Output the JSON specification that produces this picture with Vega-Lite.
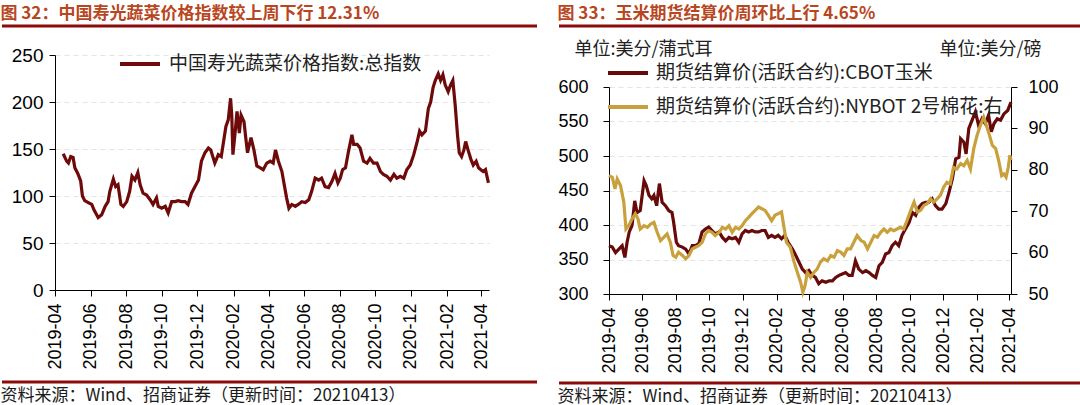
{
  "$schema": "https://vega.github.io/schema/vega-lite/v6.json",
  "padding": {"left": 0, "right": 0, "top": 4, "bottom": 0},
  "spacing": 18,
  "config": {
    "view": {"stroke": null},
    "axis": {"domainColor": "#000", "tickColor": "#000", "labelColor": "#000", "labelFont": "Liberation Sans", "titleColor": "#000", "domainWidth": 1, "tickWidth": 1},
    "title": {"font": "Noto Sans CJK SC"}
  },
  "resolve": {"scale": {"x": "independent", "y": "independent", "color": "independent"}, "legend": {"color": "independent"}},
  "datasets": {
    "veg": [
      {"date": "2019-04-15", "v": 145}, {"date": "2019-04-21", "v": 137}, {"date": "2019-04-24", "v": 135}, {"date": "2019-04-28", "v": 142},
      {"date": "2019-05-02", "v": 141}, {"date": "2019-05-05", "v": 130}, {"date": "2019-05-10", "v": 124}, {"date": "2019-05-15", "v": 116},
      {"date": "2019-05-18", "v": 100}, {"date": "2019-05-22", "v": 95}, {"date": "2019-05-28", "v": 93}, {"date": "2019-06-03", "v": 91},
      {"date": "2019-06-07", "v": 85}, {"date": "2019-06-14", "v": 77}, {"date": "2019-06-20", "v": 80}, {"date": "2019-06-26", "v": 89},
      {"date": "2019-07-01", "v": 94}, {"date": "2019-07-04", "v": 105}, {"date": "2019-07-10", "v": 118}, {"date": "2019-07-14", "v": 110},
      {"date": "2019-07-18", "v": 112}, {"date": "2019-07-23", "v": 91}, {"date": "2019-07-27", "v": 89}, {"date": "2019-08-02", "v": 94},
      {"date": "2019-08-07", "v": 105}, {"date": "2019-08-11", "v": 121}, {"date": "2019-08-16", "v": 117}, {"date": "2019-08-21", "v": 125},
      {"date": "2019-08-25", "v": 112}, {"date": "2019-08-30", "v": 103}, {"date": "2019-09-05", "v": 101}, {"date": "2019-09-11", "v": 96},
      {"date": "2019-09-16", "v": 91}, {"date": "2019-09-22", "v": 98}, {"date": "2019-09-25", "v": 89}, {"date": "2019-10-01", "v": 87},
      {"date": "2019-10-07", "v": 89}, {"date": "2019-10-12", "v": 82}, {"date": "2019-10-18", "v": 94}, {"date": "2019-10-24", "v": 94},
      {"date": "2019-10-29", "v": 95}, {"date": "2019-11-04", "v": 94}, {"date": "2019-11-10", "v": 94}, {"date": "2019-11-15", "v": 91},
      {"date": "2019-11-21", "v": 103}, {"date": "2019-11-27", "v": 110}, {"date": "2019-12-03", "v": 117}, {"date": "2019-12-08", "v": 137},
      {"date": "2019-12-14", "v": 146}, {"date": "2019-12-20", "v": 151}, {"date": "2019-12-24", "v": 149}, {"date": "2019-12-31", "v": 135},
      {"date": "2020-01-06", "v": 144}, {"date": "2020-01-11", "v": 142}, {"date": "2020-01-15", "v": 158}, {"date": "2020-01-19", "v": 174},
      {"date": "2020-01-23", "v": 181}, {"date": "2020-01-27", "v": 204}, {"date": "2020-01-29", "v": 186}, {"date": "2020-01-31", "v": 144},
      {"date": "2020-02-04", "v": 169}, {"date": "2020-02-07", "v": 190}, {"date": "2020-02-11", "v": 167}, {"date": "2020-02-14", "v": 186},
      {"date": "2020-02-19", "v": 179}, {"date": "2020-02-22", "v": 162}, {"date": "2020-02-25", "v": 146}, {"date": "2020-03-02", "v": 162},
      {"date": "2020-03-07", "v": 149}, {"date": "2020-03-12", "v": 132}, {"date": "2020-03-18", "v": 130}, {"date": "2020-03-23", "v": 128},
      {"date": "2020-03-29", "v": 135}, {"date": "2020-04-04", "v": 137}, {"date": "2020-04-09", "v": 135}, {"date": "2020-04-13", "v": 149},
      {"date": "2020-04-18", "v": 137}, {"date": "2020-04-24", "v": 126}, {"date": "2020-04-28", "v": 112}, {"date": "2020-05-02", "v": 98},
      {"date": "2020-05-06", "v": 87}, {"date": "2020-05-11", "v": 91}, {"date": "2020-05-17", "v": 89}, {"date": "2020-05-22", "v": 91},
      {"date": "2020-05-28", "v": 94}, {"date": "2020-06-03", "v": 93}, {"date": "2020-06-09", "v": 96}, {"date": "2020-06-14", "v": 105},
      {"date": "2020-06-20", "v": 119}, {"date": "2020-06-26", "v": 117}, {"date": "2020-07-01", "v": 119}, {"date": "2020-07-07", "v": 110},
      {"date": "2020-07-13", "v": 109}, {"date": "2020-07-19", "v": 116}, {"date": "2020-07-24", "v": 124}, {"date": "2020-07-29", "v": 114},
      {"date": "2020-08-02", "v": 119}, {"date": "2020-08-06", "v": 128}, {"date": "2020-08-11", "v": 130}, {"date": "2020-08-16", "v": 147},
      {"date": "2020-08-22", "v": 165}, {"date": "2020-08-25", "v": 155}, {"date": "2020-08-31", "v": 155}, {"date": "2020-09-05", "v": 151},
      {"date": "2020-09-11", "v": 137}, {"date": "2020-09-17", "v": 135}, {"date": "2020-09-22", "v": 140}, {"date": "2020-09-28", "v": 135},
      {"date": "2020-10-04", "v": 135}, {"date": "2020-10-10", "v": 126}, {"date": "2020-10-15", "v": 123}, {"date": "2020-10-21", "v": 121},
      {"date": "2020-10-27", "v": 117}, {"date": "2020-11-02", "v": 123}, {"date": "2020-11-07", "v": 119}, {"date": "2020-11-13", "v": 121},
      {"date": "2020-11-19", "v": 119}, {"date": "2020-11-24", "v": 128}, {"date": "2020-11-30", "v": 133}, {"date": "2020-12-06", "v": 144},
      {"date": "2020-12-12", "v": 158}, {"date": "2020-12-16", "v": 169}, {"date": "2020-12-20", "v": 165}, {"date": "2020-12-26", "v": 169},
      {"date": "2020-12-31", "v": 193}, {"date": "2021-01-04", "v": 200}, {"date": "2021-01-08", "v": 215}, {"date": "2021-01-12", "v": 223},
      {"date": "2021-01-17", "v": 230}, {"date": "2021-01-21", "v": 223}, {"date": "2021-01-25", "v": 229}, {"date": "2021-01-29", "v": 218},
      {"date": "2021-02-03", "v": 211}, {"date": "2021-02-07", "v": 218}, {"date": "2021-02-11", "v": 223}, {"date": "2021-02-15", "v": 197},
      {"date": "2021-02-19", "v": 165}, {"date": "2021-02-22", "v": 146}, {"date": "2021-02-26", "v": 142}, {"date": "2021-03-02", "v": 149},
      {"date": "2021-03-05", "v": 158}, {"date": "2021-03-10", "v": 147}, {"date": "2021-03-14", "v": 139}, {"date": "2021-03-18", "v": 133},
      {"date": "2021-03-23", "v": 137}, {"date": "2021-03-27", "v": 130}, {"date": "2021-03-31", "v": 128}, {"date": "2021-04-04", "v": 126},
      {"date": "2021-04-08", "v": 128}, {"date": "2021-04-13", "v": 114}
    ],
    "corn": [
      {"date": "2019-04-01", "v": 370}, {"date": "2019-04-07", "v": 368}, {"date": "2019-04-13", "v": 360}, {"date": "2019-04-19", "v": 365},
      {"date": "2019-04-25", "v": 370}, {"date": "2019-04-30", "v": 353}, {"date": "2019-05-04", "v": 375}, {"date": "2019-05-08", "v": 390},
      {"date": "2019-05-13", "v": 399}, {"date": "2019-05-18", "v": 435}, {"date": "2019-05-22", "v": 418}, {"date": "2019-05-28", "v": 421},
      {"date": "2019-06-04", "v": 464}, {"date": "2019-06-08", "v": 457}, {"date": "2019-06-13", "v": 443}, {"date": "2019-06-18", "v": 438},
      {"date": "2019-06-22", "v": 443}, {"date": "2019-06-27", "v": 428}, {"date": "2019-07-02", "v": 460}, {"date": "2019-07-07", "v": 433},
      {"date": "2019-07-13", "v": 428}, {"date": "2019-07-19", "v": 421}, {"date": "2019-07-25", "v": 418}, {"date": "2019-07-28", "v": 404},
      {"date": "2019-08-02", "v": 375}, {"date": "2019-08-06", "v": 370}, {"date": "2019-08-13", "v": 368}, {"date": "2019-08-19", "v": 365},
      {"date": "2019-08-25", "v": 358}, {"date": "2019-08-31", "v": 370}, {"date": "2019-09-06", "v": 370}, {"date": "2019-09-12", "v": 373},
      {"date": "2019-09-18", "v": 390}, {"date": "2019-09-24", "v": 394}, {"date": "2019-09-30", "v": 397}, {"date": "2019-10-06", "v": 392},
      {"date": "2019-10-12", "v": 387}, {"date": "2019-10-19", "v": 390}, {"date": "2019-10-25", "v": 382}, {"date": "2019-10-31", "v": 377},
      {"date": "2019-11-06", "v": 382}, {"date": "2019-11-12", "v": 380}, {"date": "2019-11-18", "v": 382}, {"date": "2019-11-24", "v": 375},
      {"date": "2019-11-30", "v": 387}, {"date": "2019-12-06", "v": 392}, {"date": "2019-12-12", "v": 390}, {"date": "2019-12-18", "v": 392},
      {"date": "2019-12-24", "v": 390}, {"date": "2019-12-30", "v": 390}, {"date": "2020-01-05", "v": 392}, {"date": "2020-01-11", "v": 392},
      {"date": "2020-01-17", "v": 382}, {"date": "2020-01-23", "v": 385}, {"date": "2020-01-29", "v": 382}, {"date": "2020-02-04", "v": 385},
      {"date": "2020-02-10", "v": 380}, {"date": "2020-02-16", "v": 385}, {"date": "2020-02-22", "v": 375}, {"date": "2020-03-01", "v": 365},
      {"date": "2020-03-07", "v": 356}, {"date": "2020-03-13", "v": 346}, {"date": "2020-03-19", "v": 336}, {"date": "2020-03-25", "v": 331},
      {"date": "2020-03-31", "v": 334}, {"date": "2020-04-06", "v": 327}, {"date": "2020-04-12", "v": 324}, {"date": "2020-04-18", "v": 315},
      {"date": "2020-04-24", "v": 319}, {"date": "2020-05-01", "v": 317}, {"date": "2020-05-07", "v": 319}, {"date": "2020-05-13", "v": 319},
      {"date": "2020-05-19", "v": 324}, {"date": "2020-05-25", "v": 327}, {"date": "2020-05-31", "v": 329}, {"date": "2020-06-06", "v": 331},
      {"date": "2020-06-12", "v": 327}, {"date": "2020-06-18", "v": 327}, {"date": "2020-06-24", "v": 348}, {"date": "2020-06-30", "v": 336},
      {"date": "2020-07-07", "v": 331}, {"date": "2020-07-13", "v": 334}, {"date": "2020-07-19", "v": 331}, {"date": "2020-07-25", "v": 327},
      {"date": "2020-07-31", "v": 324}, {"date": "2020-08-06", "v": 341}, {"date": "2020-08-12", "v": 346}, {"date": "2020-08-18", "v": 358},
      {"date": "2020-08-24", "v": 360}, {"date": "2020-08-30", "v": 370}, {"date": "2020-09-05", "v": 375}, {"date": "2020-09-11", "v": 370},
      {"date": "2020-09-17", "v": 385}, {"date": "2020-09-23", "v": 394}, {"date": "2020-09-30", "v": 404}, {"date": "2020-10-06", "v": 418},
      {"date": "2020-10-12", "v": 414}, {"date": "2020-10-18", "v": 426}, {"date": "2020-10-24", "v": 431}, {"date": "2020-10-30", "v": 433},
      {"date": "2020-11-05", "v": 433}, {"date": "2020-11-11", "v": 438}, {"date": "2020-11-17", "v": 428}, {"date": "2020-11-23", "v": 423},
      {"date": "2020-11-29", "v": 423}, {"date": "2020-12-06", "v": 431}, {"date": "2020-12-12", "v": 448}, {"date": "2020-12-18", "v": 467},
      {"date": "2020-12-24", "v": 496}, {"date": "2020-12-30", "v": 498}, {"date": "2021-01-02", "v": 525}, {"date": "2021-01-08", "v": 520},
      {"date": "2021-01-12", "v": 503}, {"date": "2021-01-17", "v": 540}, {"date": "2021-01-23", "v": 552}, {"date": "2021-01-29", "v": 564},
      {"date": "2021-02-04", "v": 544}, {"date": "2021-02-10", "v": 554}, {"date": "2021-02-16", "v": 547}, {"date": "2021-02-22", "v": 559},
      {"date": "2021-02-27", "v": 535}, {"date": "2021-03-04", "v": 547}, {"date": "2021-03-10", "v": 554}, {"date": "2021-03-16", "v": 552},
      {"date": "2021-03-22", "v": 561}, {"date": "2021-03-29", "v": 566}, {"date": "2021-04-04", "v": 578}
    ],
    "cotton": [
      {"date": "2019-04-01", "v": 78.6}, {"date": "2019-04-07", "v": 78.2}, {"date": "2019-04-12", "v": 75.4}, {"date": "2019-04-16", "v": 77.8},
      {"date": "2019-04-22", "v": 76.2}, {"date": "2019-04-28", "v": 72.2}, {"date": "2019-05-02", "v": 65.7}, {"date": "2019-05-07", "v": 66.5},
      {"date": "2019-05-13", "v": 68.1}, {"date": "2019-05-19", "v": 69.4}, {"date": "2019-05-24", "v": 68.1}, {"date": "2019-05-28", "v": 65.7},
      {"date": "2019-06-04", "v": 66.5}, {"date": "2019-06-10", "v": 66.1}, {"date": "2019-06-16", "v": 66.9}, {"date": "2019-06-22", "v": 67.3},
      {"date": "2019-06-28", "v": 64.9}, {"date": "2019-07-04", "v": 62.9}, {"date": "2019-07-10", "v": 63.7}, {"date": "2019-07-16", "v": 64.5},
      {"date": "2019-07-22", "v": 62.5}, {"date": "2019-07-27", "v": 59.3}, {"date": "2019-08-01", "v": 58.9}, {"date": "2019-08-06", "v": 60.1},
      {"date": "2019-08-13", "v": 59.3}, {"date": "2019-08-19", "v": 58.5}, {"date": "2019-08-25", "v": 59.3}, {"date": "2019-08-31", "v": 60.9},
      {"date": "2019-09-06", "v": 61.3}, {"date": "2019-09-12", "v": 61.7}, {"date": "2019-09-18", "v": 62.5}, {"date": "2019-09-24", "v": 64.5},
      {"date": "2019-09-30", "v": 65.3}, {"date": "2019-10-06", "v": 64.9}, {"date": "2019-10-12", "v": 64.1}, {"date": "2019-10-19", "v": 64.9},
      {"date": "2019-10-25", "v": 66.1}, {"date": "2019-10-31", "v": 65.7}, {"date": "2019-11-06", "v": 66.5}, {"date": "2019-11-12", "v": 64.9},
      {"date": "2019-11-18", "v": 66.1}, {"date": "2019-11-24", "v": 65.7}, {"date": "2019-11-30", "v": 66.5}, {"date": "2019-12-06", "v": 67.7},
      {"date": "2019-12-12", "v": 68.5}, {"date": "2019-12-18", "v": 69.4}, {"date": "2019-12-24", "v": 70.2}, {"date": "2019-12-30", "v": 71.0},
      {"date": "2020-01-05", "v": 70.6}, {"date": "2020-01-11", "v": 70.2}, {"date": "2020-01-17", "v": 69.0}, {"date": "2020-01-23", "v": 67.7},
      {"date": "2020-01-29", "v": 69.0}, {"date": "2020-02-04", "v": 69.4}, {"date": "2020-02-10", "v": 69.8}, {"date": "2020-02-15", "v": 65.7},
      {"date": "2020-02-19", "v": 62.5}, {"date": "2020-02-26", "v": 61.3}, {"date": "2020-03-04", "v": 57.7}, {"date": "2020-03-10", "v": 55.2},
      {"date": "2020-03-16", "v": 52.8}, {"date": "2020-03-20", "v": 50.4}, {"date": "2020-03-24", "v": 52.0}, {"date": "2020-03-28", "v": 55.2},
      {"date": "2020-04-03", "v": 54.0}, {"date": "2020-04-09", "v": 55.2}, {"date": "2020-04-15", "v": 56.0}, {"date": "2020-04-21", "v": 57.7},
      {"date": "2020-04-27", "v": 58.5}, {"date": "2020-05-04", "v": 58.0}, {"date": "2020-05-10", "v": 59.3}, {"date": "2020-05-16", "v": 58.9},
      {"date": "2020-05-22", "v": 60.5}, {"date": "2020-05-28", "v": 60.1}, {"date": "2020-06-03", "v": 59.3}, {"date": "2020-06-09", "v": 60.9},
      {"date": "2020-06-15", "v": 60.9}, {"date": "2020-06-21", "v": 62.5}, {"date": "2020-06-27", "v": 64.1}, {"date": "2020-07-04", "v": 62.9},
      {"date": "2020-07-10", "v": 62.5}, {"date": "2020-07-16", "v": 60.9}, {"date": "2020-07-22", "v": 62.5}, {"date": "2020-07-28", "v": 64.1},
      {"date": "2020-08-03", "v": 63.7}, {"date": "2020-08-09", "v": 64.9}, {"date": "2020-08-15", "v": 65.7}, {"date": "2020-08-21", "v": 64.9},
      {"date": "2020-08-27", "v": 65.7}, {"date": "2020-09-02", "v": 65.3}, {"date": "2020-09-08", "v": 65.7}, {"date": "2020-09-14", "v": 66.1},
      {"date": "2020-09-20", "v": 65.7}, {"date": "2020-09-26", "v": 67.7}, {"date": "2020-10-03", "v": 70.2}, {"date": "2020-10-09", "v": 72.2},
      {"date": "2020-10-15", "v": 69.8}, {"date": "2020-10-21", "v": 70.2}, {"date": "2020-10-27", "v": 71.4}, {"date": "2020-11-02", "v": 71.8},
      {"date": "2020-11-08", "v": 73.0}, {"date": "2020-11-14", "v": 72.2}, {"date": "2020-11-20", "v": 73.0}, {"date": "2020-11-26", "v": 73.8},
      {"date": "2020-12-02", "v": 75.8}, {"date": "2020-12-08", "v": 77.0}, {"date": "2020-12-14", "v": 76.6}, {"date": "2020-12-20", "v": 80.6},
      {"date": "2020-12-26", "v": 80.2}, {"date": "2021-01-02", "v": 81.5}, {"date": "2021-01-08", "v": 81.0}, {"date": "2021-01-14", "v": 82.3},
      {"date": "2021-01-20", "v": 80.2}, {"date": "2021-01-26", "v": 85.1}, {"date": "2021-02-01", "v": 88.3}, {"date": "2021-02-07", "v": 90.7},
      {"date": "2021-02-13", "v": 92.7}, {"date": "2021-02-17", "v": 91.1}, {"date": "2021-02-22", "v": 89.1}, {"date": "2021-03-01", "v": 85.9},
      {"date": "2021-03-07", "v": 85.1}, {"date": "2021-03-13", "v": 81.9}, {"date": "2021-03-18", "v": 78.6}, {"date": "2021-03-22", "v": 79.0},
      {"date": "2021-03-26", "v": 78.2}, {"date": "2021-03-30", "v": 80.6}, {"date": "2021-04-02", "v": 83.5}, {"date": "2021-04-04", "v": 82.3}
    ]
  },
  "hconcat": [
    {
      "title": {"text": "图 32：中国寿光蔬菜价格指数较上周下行 12.31%", "anchor": "start", "fontSize": 17, "fontWeight": "bold", "color": "#B8461E", "offset": 2},
      "spacing": 5,
      "resolve": {"scale": {"x": "independent", "y": "independent", "color": "independent"}},
      "vconcat": [
        {
          "width": 482, "height": 11,
          "data": {"values": [{"k": 1}]},
          "mark": {"type": "rule", "color": "#8B0A0A", "strokeWidth": 3},
          "encoding": {
            "x": {"datum": -0.11, "type": "quantitative", "scale": {"domain": [0, 1], "nice": false, "zero": false}, "axis": null},
            "x2": {"datum": 1},
            "y": {"datum": 1, "type": "quantitative", "scale": {"domain": [0, 1]}, "axis": null}
          }
        },
        {
          "width": 434, "height": 235,
          "data": {"name": "veg"},
          "mark": {"type": "line", "strokeWidth": 3.2},
          "encoding": {
            "x": {"field": "date", "type": "temporal",
              "scale": {"type": "utc", "domain": [{"year": 2019, "month": 4, "date": 1, "utc": true}, {"year": 2021, "month": 4, "date": 14, "utc": true}]},
              "axis": {"title": null, "format": "%Y-%m", "labelAngle": -90, "labelFontSize": 18, "labelPadding": 7, "tickSize": 6, "grid": false, "labelOverlap": false, "labelFlush": false,
                "values": [{"year": 2019, "month": 4, "date": 1, "utc": true}, {"year": 2019, "month": 6, "date": 1, "utc": true}, {"year": 2019, "month": 8, "date": 1, "utc": true}, {"year": 2019, "month": 10, "date": 1, "utc": true}, {"year": 2019, "month": 12, "date": 1, "utc": true}, {"year": 2020, "month": 2, "date": 1, "utc": true}, {"year": 2020, "month": 4, "date": 1, "utc": true}, {"year": 2020, "month": 6, "date": 1, "utc": true}, {"year": 2020, "month": 8, "date": 1, "utc": true}, {"year": 2020, "month": 10, "date": 1, "utc": true}, {"year": 2020, "month": 12, "date": 1, "utc": true}, {"year": 2021, "month": 2, "date": 1, "utc": true}, {"year": 2021, "month": 4, "date": 1, "utc": true}]}},
            "y": {"field": "v", "type": "quantitative",
              "scale": {"domain": [0, 250], "nice": false},
              "axis": {"title": null, "values": [0, 50, 100, 150, 200, 250], "labelFontSize": 19, "labelPadding": 6, "tickSize": 6, "minExtent": 53, "maxExtent": 53, "grid": true, "gridColor": "#e4e4e4", "gridDash": [5, 4], "labelFlush": false}},
            "color": {"datum": "中国寿光蔬菜价格指数:总指数", "type": "nominal",
              "scale": {"range": ["#6E0A0A"]},
              "legend": {"title": null, "orient": "none", "legendX": 63, "legendY": -13, "symbolType": "stroke", "symbolSize": 1600, "symbolStrokeWidth": 4, "labelFontSize": 19, "labelFont": "Noto Sans CJK SC", "labelColor": "#222", "labelLimit": 300, "labelOffset": 7, "padding": 0}}
          }
        },
        {
          "width": 482, "height": 7,
          "data": {"values": [{"k": 1}]},
          "mark": {"type": "rule", "color": "#8B0A0A", "strokeWidth": 3},
          "encoding": {
            "x": {"datum": -0.11, "type": "quantitative", "scale": {"domain": [0, 1], "nice": false, "zero": false}, "axis": null},
            "x2": {"datum": 1},
            "y": {"datum": 0, "type": "quantitative", "scale": {"domain": [0, 1]}, "axis": null}
          },
          "title": {"text": "资料来源：Wind、招商证券（更新时间：20210413）", "orient": "bottom", "anchor": "start", "fontSize": 17, "fontWeight": "normal", "color": "#1a1a1a", "offset": 4}
        }
      ]
    },
    {
      "title": {"text": "图 33：玉米期货结算价周环比上行 4.65%", "anchor": "start", "fontSize": 17, "fontWeight": "bold", "color": "#B8461E", "offset": 2},
      "spacing": 5,
      "resolve": {"scale": {"x": "independent", "y": "independent", "color": "independent"}},
      "vconcat": [
        {
          "width": 477, "height": 9,
          "data": {"values": [{"k": 1}]},
          "mark": {"type": "rule", "color": "#8B0A0A", "strokeWidth": 3},
          "encoding": {
            "x": {"datum": -0.1048, "type": "quantitative", "scale": {"domain": [0, 1], "nice": false, "zero": false}, "axis": null},
            "x2": {"datum": 1},
            "y": {"datum": 1, "type": "quantitative", "scale": {"domain": [0, 1]}, "axis": null}
          }
        },
        {
          "width": 402, "height": 207,
          "encoding": {
            "x": {"field": "date", "type": "temporal",
              "scale": {"type": "utc", "domain": [{"year": 2019, "month": 4, "date": 1, "utc": true}, {"year": 2021, "month": 4, "date": 4, "utc": true}]},
              "axis": {"title": null, "format": "%Y-%m", "labelAngle": -90, "labelFontSize": 18, "labelPadding": 7, "tickSize": 6, "grid": false, "labelOverlap": false, "labelFlush": false,
                "values": [{"year": 2019, "month": 4, "date": 1, "utc": true}, {"year": 2019, "month": 6, "date": 1, "utc": true}, {"year": 2019, "month": 8, "date": 1, "utc": true}, {"year": 2019, "month": 10, "date": 1, "utc": true}, {"year": 2019, "month": 12, "date": 1, "utc": true}, {"year": 2020, "month": 2, "date": 1, "utc": true}, {"year": 2020, "month": 4, "date": 1, "utc": true}, {"year": 2020, "month": 6, "date": 1, "utc": true}, {"year": 2020, "month": 8, "date": 1, "utc": true}, {"year": 2020, "month": 10, "date": 1, "utc": true}, {"year": 2020, "month": 12, "date": 1, "utc": true}, {"year": 2021, "month": 2, "date": 1, "utc": true}, {"year": 2021, "month": 4, "date": 1, "utc": true}]}}
          },
          "layer": [
            {
              "data": {"name": "corn"},
              "mark": {"type": "line", "strokeWidth": 3.2},
              "encoding": {
                "y": {"field": "v", "type": "quantitative",
                  "scale": {"domain": [300, 600], "nice": false, "zero": false},
                  "axis": {"title": "单位:美分/蒲式耳", "titleAngle": 0, "titleAlign": "left", "titleBaseline": "middle", "titleX": -35, "titleY": -38, "titleFontSize": 18, "titleFontWeight": "normal", "titleFont": "Noto Sans CJK SC", "titleColor": "#222",
                    "values": [300, 350, 400, 450, 500, 550, 600], "labelFontSize": 18, "labelPadding": 15, "tickSize": 6, "minExtent": 50, "maxExtent": 50, "grid": true, "gridColor": "#e4e4e4", "gridDash": [5, 4], "labelFlush": false}},
                "color": {"datum": "期货结算价(活跃合约):CBOT玉米", "type": "nominal",
                  "scale": {"domain": ["期货结算价(活跃合约):CBOT玉米", "期货结算价(活跃合约):NYBOT 2号棉花:右"], "range": ["#660A0A", "#C8A13C"]},
                  "legend": {"title": null, "orient": "none", "direction": "vertical", "legendX": -3, "legendY": -36, "symbolType": "stroke", "symbolSize": 1600, "symbolStrokeWidth": 4, "labelFontSize": 19, "labelFont": "Noto Sans CJK SC", "labelColor": "#222", "labelLimit": 400, "labelOffset": 6, "rowPadding": 2, "padding": 0}}
              }
            },
            {
              "data": {"name": "cotton"},
              "mark": {"type": "line", "strokeWidth": 3.2},
              "encoding": {
                "y": {"field": "v", "type": "quantitative",
                  "scale": {"domain": [50, 100], "nice": false, "zero": false},
                  "axis": {"orient": "right", "title": "单位:美分/磅", "titleAngle": 0, "titleAlign": "left", "titleBaseline": "middle", "titleX": -72, "titleY": -38, "titleFontSize": 18, "titleFontWeight": "normal", "titleFont": "Noto Sans CJK SC", "titleColor": "#222",
                    "values": [50, 60, 70, 80, 90, 100], "labelFontSize": 18, "labelPadding": 11, "tickSize": 6, "grid": false, "labelFlush": false}},
                "color": {"datum": "期货结算价(活跃合约):NYBOT 2号棉花:右", "type": "nominal"}
              }
            }
          ],
          "resolve": {"scale": {"y": "independent"}}
        },
        {
          "width": 477, "height": 4,
          "data": {"values": [{"k": 1}]},
          "mark": {"type": "rule", "color": "#8B0A0A", "strokeWidth": 3},
          "encoding": {
            "x": {"datum": -0.1048, "type": "quantitative", "scale": {"domain": [0, 1], "nice": false, "zero": false}, "axis": null},
            "x2": {"datum": 1},
            "y": {"datum": 0, "type": "quantitative", "scale": {"domain": [0, 1]}, "axis": null}
          },
          "title": {"text": "资料来源：Wind、招商证券（更新时间：20210413）", "orient": "bottom", "anchor": "start", "fontSize": 17, "fontWeight": "normal", "color": "#1a1a1a", "offset": 4}
        }
      ]
    }
  ]
}
